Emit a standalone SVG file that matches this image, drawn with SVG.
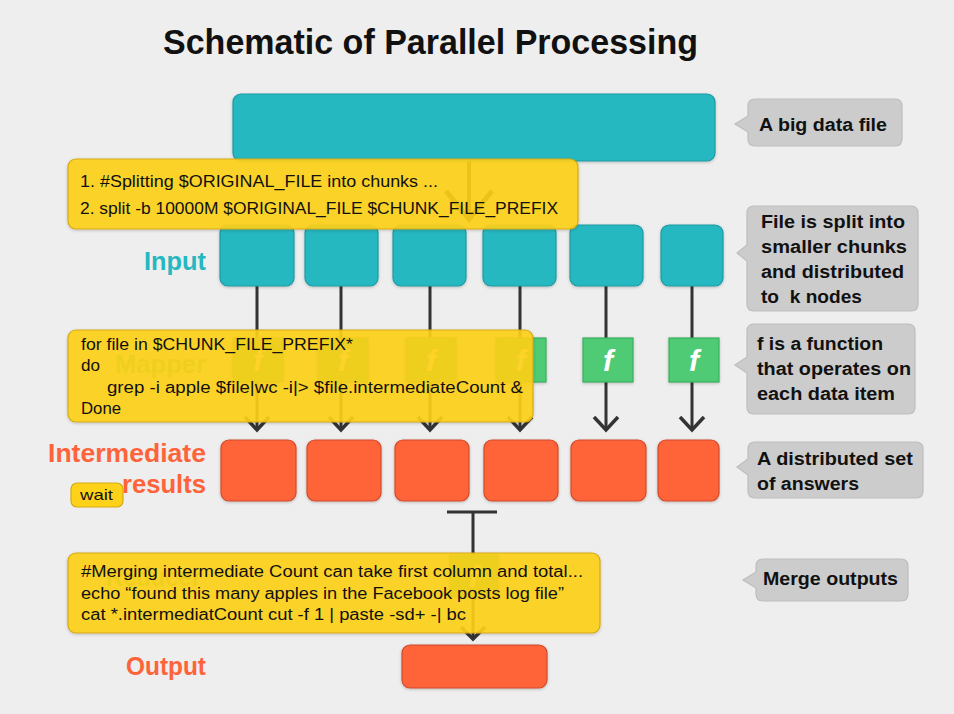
<svg xmlns="http://www.w3.org/2000/svg" width="954" height="714" viewBox="0 0 954 714">
<defs>
<filter id="sh" x="-10%" y="-10%" width="120%" height="130%"><feDropShadow dx="0" dy="1" stdDeviation="1.5" flood-color="#000" flood-opacity="0.22"/></filter>
<style>
.t{font-family:"Liberation Sans",Arial,sans-serif}
.title{font-size:35px;font-weight:bold;fill:#111}
.teal{fill:#26B8C1;stroke:#1E9AA2;stroke-width:1.2;filter:url(#sh)}
.org{fill:#FF6339;stroke:#CF4B2A;stroke-width:1.2;filter:url(#sh)}
.grn{fill:#4FCB74;stroke:#3DAE5F;stroke-width:1.2;filter:url(#sh)}
.f{font-size:30px;font-weight:bold;font-style:italic;fill:#fff;text-anchor:middle}
.lab{font-size:25px;font-weight:bold}
.call{fill:#CCCCCC;stroke:#BDBDBD;stroke-width:1.2}
.ct{font-size:18px;font-weight:bold;fill:#111}
.note{fill:#FFD21A;fill-opacity:0.9;stroke:#D5AA10;stroke-width:1.2;filter:url(#sh)}
.nt{font-size:16px;fill:#111}
.ln{stroke:#333;stroke-width:3;fill:none}
.ch{stroke:#333;stroke-width:3.5;fill:none;stroke-linejoin:miter}
</style>
</defs>
<rect width="954" height="714" fill="#EEEEEE"/>
<text class="t title" x="163" y="54" textLength="535" lengthAdjust="spacingAndGlyphs">Schematic of Parallel Processing</text>

<g id="connectors">
<line class="ln" x1="469" y1="161" x2="469" y2="218" style="stroke-width:4"/>
<polyline class="ch" points="446,191 469,219 492,191" style="stroke-width:5"/>
<line class="ln" x1="257" y1="286" x2="257" y2="428"/><polyline class="ch" points="245,417 257,430 269,417"/>
<line class="ln" x1="341" y1="286" x2="341" y2="428"/><polyline class="ch" points="329,417 341,430 353,417"/>
<line class="ln" x1="430" y1="286" x2="430" y2="428"/><polyline class="ch" points="418,417 430,430 442,417"/>
<line class="ln" x1="520" y1="286" x2="520" y2="428"/><polyline class="ch" points="508,417 520,430 532,417"/>
<line class="ln" x1="606" y1="286" x2="606" y2="428"/><polyline class="ch" points="594,417 606,430 618,417"/>
<line class="ln" x1="692" y1="286" x2="692" y2="428"/><polyline class="ch" points="680,417 692,430 704,417"/>
<line class="ln" x1="447" y1="512" x2="497" y2="512"/>
<line class="ln" x1="473" y1="512" x2="473" y2="637"/><polyline class="ch" points="461,627 473,639 485,627"/>
</g>

<g id="bigdata"><rect class="teal" x="233" y="94" width="482" height="67" rx="8"/></g>

<g id="input-label"><text class="t lab" x="144" y="270" fill="#26B8C1" textLength="62" lengthAdjust="spacingAndGlyphs">Input</text></g>
<g id="input1"><rect class="teal" x="220" y="225" width="74" height="61" rx="8"/></g>
<g id="input2"><rect class="teal" x="305" y="225" width="73" height="61" rx="8"/></g>
<g id="input3"><rect class="teal" x="393" y="225" width="73" height="61" rx="8"/></g>
<g id="input4"><rect class="teal" x="483" y="225" width="73" height="61" rx="8"/></g>
<g id="input5"><rect class="teal" x="570" y="225" width="73" height="61" rx="8"/></g>
<g id="input6"><rect class="teal" x="661" y="225" width="62" height="61" rx="8"/></g>

<g id="mapper-label"><text class="t lab" x="115" y="373" fill="#4FCB74" textLength="91" lengthAdjust="spacingAndGlyphs">Mapper</text></g>
<g id="f1"><rect class="grn" x="233" y="338" width="50" height="44"/><text class="t f" x="258" y="371">f</text></g>
<g id="f2"><rect class="grn" x="318" y="338" width="50" height="44"/><text class="t f" x="343" y="371">f</text></g>
<g id="f3"><rect class="grn" x="406" y="338" width="50" height="44"/><text class="t f" x="431" y="371">f</text></g>
<g id="f4"><rect class="grn" x="496" y="338" width="50" height="44"/><text class="t f" x="521" y="371">f</text></g>
<g id="f5"><rect class="grn" x="583" y="338" width="50" height="44"/><text class="t f" x="608" y="371">f</text></g>
<g id="f6"><rect class="grn" x="669" y="338" width="50" height="44"/><text class="t f" x="694" y="371">f</text></g>

<g id="inter-label">
<text class="t lab" x="48" y="462" fill="#FF6339" textLength="158" lengthAdjust="spacingAndGlyphs">Intermediate</text>
<text class="t lab" x="122" y="493" fill="#FF6339" textLength="84" lengthAdjust="spacingAndGlyphs">results</text>
</g>
<g id="int1"><rect class="org" x="221" y="440" width="75" height="61" rx="8"/></g>
<g id="int2"><rect class="org" x="307" y="440" width="74" height="61" rx="8"/></g>
<g id="int3"><rect class="org" x="395" y="440" width="74" height="61" rx="8"/></g>
<g id="int4"><rect class="org" x="484" y="440" width="74" height="61" rx="8"/></g>
<g id="int5"><rect class="org" x="571" y="440" width="75" height="61" rx="8"/></g>
<g id="int6"><rect class="org" x="658" y="440" width="61" height="61" rx="8"/></g>

<g id="wait"><rect x="71" y="483" width="52" height="24" rx="6" fill="#FFD21A" stroke="#D5AA10" stroke-width="1.2"/><text class="t" x="80" y="500" font-size="15" fill="#111" textLength="33" lengthAdjust="spacingAndGlyphs">wait</text></g>

<g id="reducer-label"><text class="t lab" x="106" y="586" fill="#4FCB74" textLength="95" lengthAdjust="spacingAndGlyphs">Reducer</text></g>
<g id="freduce"><rect class="grn" x="450" y="555" width="48" height="42"/><text class="t f" x="474" y="587">f</text></g>

<g id="output-label"><text class="t lab" x="126" y="675" fill="#FF6339" textLength="80" lengthAdjust="spacingAndGlyphs">Output</text></g>
<g id="output"><rect class="org" x="402" y="645" width="145" height="43" rx="8"/></g>

<g id="callout1"><path class="call" d="M755,99 H895 Q902,99 902,106 V139 Q902,146 895,146 H755 Q748,146 748,139 V132 L735,124 L748,116 V106 Q748,99 755,99 Z"/>
<text class="t ct" x="759" y="131" textLength="128" lengthAdjust="spacingAndGlyphs">A big data file</text></g>
<g id="callout2"><path class="call" d="M754,206 H911 Q918,206 918,213 V304 Q918,311 911,311 H754 Q747,311 747,304 V261 L737,253 L747,245 V213 Q747,206 754,206 Z"/>
<text class="t ct" x="761" y="228" textLength="144" lengthAdjust="spacingAndGlyphs">File is split into</text>
<text class="t ct" x="761" y="253" textLength="146" lengthAdjust="spacingAndGlyphs">smaller chunks</text>
<text class="t ct" x="761" y="278" textLength="143" lengthAdjust="spacingAndGlyphs">and distributed</text>
<text class="t ct" x="761" y="303" textLength="101" lengthAdjust="spacingAndGlyphs" xml:space="preserve">to  k nodes</text></g>
<g id="callout3"><path class="call" d="M754,324 H908 Q915,324 915,331 V407 Q915,414 908,414 H754 Q747,414 747,407 V373 L735,365 L747,357 V331 Q747,324 754,324 Z"/>
<text class="t ct" x="757" y="350" textLength="126" lengthAdjust="spacingAndGlyphs">f is a function</text>
<text class="t ct" x="757" y="375" textLength="154" lengthAdjust="spacingAndGlyphs">that operates on</text>
<text class="t ct" x="757" y="400" textLength="138" lengthAdjust="spacingAndGlyphs">each data item</text></g>
<g id="callout4"><path class="call" d="M755,442 H916 Q923,442 923,449 V491 Q923,498 916,498 H755 Q748,498 748,491 V475 L737,467 L748,459 V449 Q748,442 755,442 Z"/>
<text class="t ct" x="757" y="465" textLength="156" lengthAdjust="spacingAndGlyphs">A distributed set</text>
<text class="t ct" x="757" y="490" textLength="102" lengthAdjust="spacingAndGlyphs">of answers</text></g>
<g id="callout5"><path class="call" d="M763,559 H901 Q908,559 908,566 V594 Q908,601 901,601 H763 Q756,601 756,594 V588 L743,580 L756,572 V566 Q756,559 763,559 Z"/>
<text class="t ct" x="763" y="585" textLength="135" lengthAdjust="spacingAndGlyphs">Merge outputs</text></g>

<g id="note-split"><rect class="note" x="68" y="159" width="510" height="70" rx="8"/>
<text class="t nt" x="80" y="187" textLength="358" lengthAdjust="spacingAndGlyphs">1. #Splitting $ORIGINAL_FILE into chunks ...</text>
<text class="t nt" x="80" y="214" textLength="478" lengthAdjust="spacingAndGlyphs">2. split -b 10000M $ORIGINAL_FILE $CHUNK_FILE_PREFIX</text></g>
<g id="note-map"><rect class="note" x="68" y="330" width="465" height="92" rx="8"/>
<text class="t nt" x="81" y="350" textLength="272" lengthAdjust="spacingAndGlyphs">for file in $CHUNK_FILE_PREFIX*</text>
<text class="t nt" x="81" y="371" textLength="19" lengthAdjust="spacingAndGlyphs">do</text>
<text class="t nt" x="107" y="393" textLength="416" lengthAdjust="spacingAndGlyphs">grep -i apple $file|wc -i|&gt; $file.intermediateCount &amp;</text>
<text class="t nt" x="81" y="414" textLength="40" lengthAdjust="spacingAndGlyphs">Done</text></g>
<g id="note-merge"><rect class="note" x="68" y="553" width="532" height="80" rx="8"/>
<text class="t nt" x="81" y="577" textLength="502" lengthAdjust="spacingAndGlyphs">#Merging intermediate Count can take first column and total...</text>
<text class="t nt" x="81" y="599" textLength="483" lengthAdjust="spacingAndGlyphs">echo “found this many apples in the Facebook posts log file”</text>
<text class="t nt" x="81" y="620" textLength="385" lengthAdjust="spacingAndGlyphs">cat *.intermediatCount cut -f 1 | paste -sd+ -| bc</text></g>
</svg>
